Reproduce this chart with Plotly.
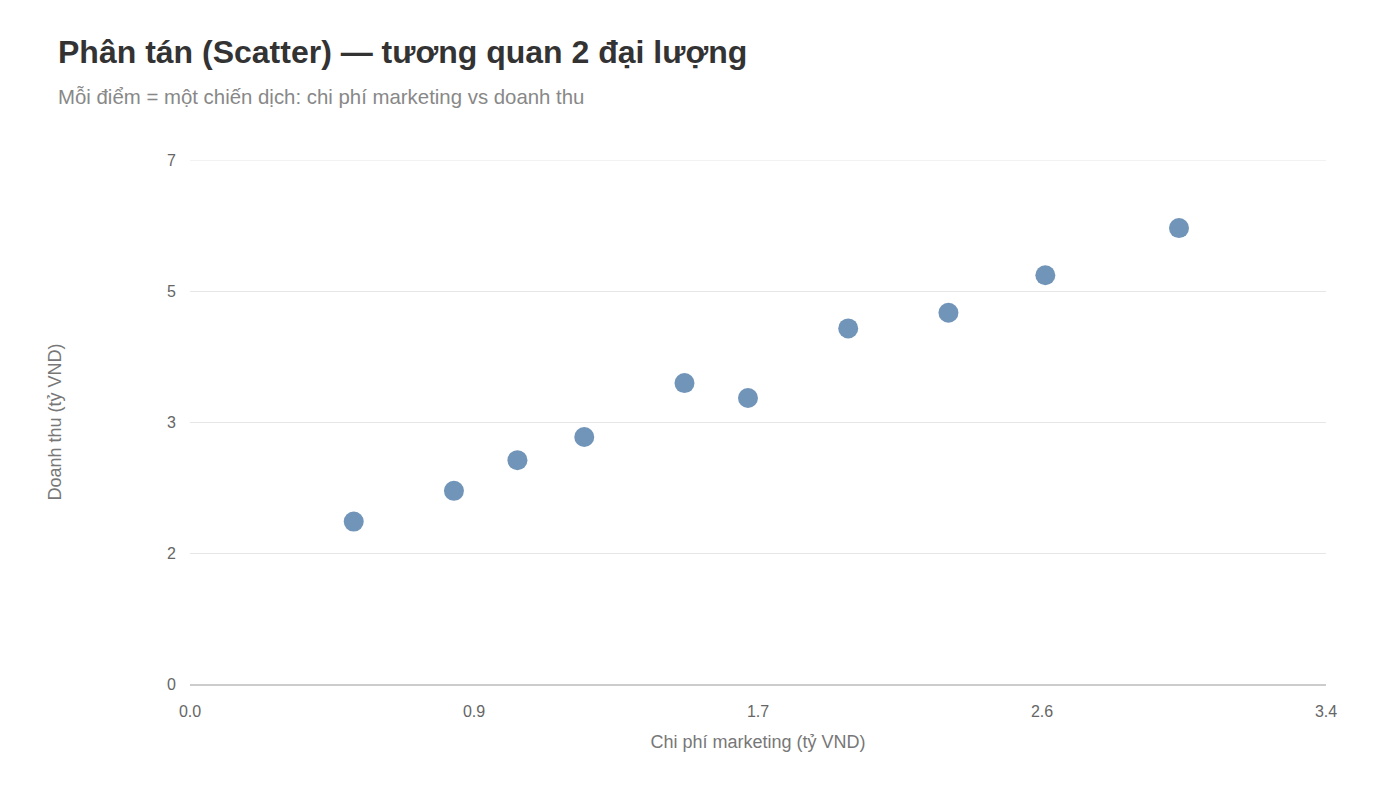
import plotly.graph_objects as go

chi_phi = [0.49, 0.79, 0.98, 1.18, 1.48, 1.67, 1.97, 2.27, 2.56, 2.96]
doanh_thu = [2.17, 2.58, 2.99, 3.30, 4.02, 3.82, 4.75, 4.96, 5.46, 6.09]

x_tickvals = [0, 0.85, 1.7, 2.55, 3.4]
x_ticktext = ["0.0", "0.9", "1.7", "2.6", "3.4"]
y_tickvals = [0, 1.75, 3.5, 5.25, 7]
y_ticktext = ["0", "2", "3", "5", "7"]

fig = go.Figure()
fig.add_trace(go.Scatter(
    x=chi_phi, y=doanh_thu, mode="markers",
    marker=dict(size=20, color="#4e79a7", opacity=0.8, line=dict(width=0)),
    showlegend=False,
))

font = "Liberation Sans, Arial, Helvetica, sans-serif"
fig.update_layout(
    width=1400, height=787,
    margin=dict(l=190, r=74, t=160, b=103),
    paper_bgcolor="white", plot_bgcolor="white",
    font=dict(family=font),
    title=dict(
        text="<b>Phân tán (Scatter) — tương quan 2 đại lượng</b>",
        x=58/1400, xanchor="left", xref="container",
        y=1-52/787, yanchor="middle", yref="container",
        font=dict(size=32, color="#333333", family=font),
    ),
    annotations=[dict(
        text="Mỗi điểm = một chiến dịch: chi phí marketing vs doanh thu",
        xref="paper", yref="paper",
        x=(56-190)/1136, y=(684-97)/524, xanchor="left", yanchor="middle",
        showarrow=False, font=dict(size=20.4, color="#888888", family=font),
    )],
    shapes=[dict(
        type="line", xref="paper", yref="y", x0=0, x1=1, y0=7, y1=7,
        line=dict(color="#e6e6e6", width=1), layer="below",
    )],
    xaxis=dict(
        range=[0, 3.4], tickvals=x_tickvals, ticktext=x_ticktext,
        showgrid=False, zeroline=False, showline=True, linecolor="#cccccc", linewidth=2,
        ticks="", ticklabelstandoff=12,
        tickfont=dict(size=16, color="#666666"),
        title=dict(text="Chi phí marketing (tỷ VND)", font=dict(size=18, color="#777777"), standoff=16),
    ),
    yaxis=dict(
        range=[0, 7], tickvals=y_tickvals, ticktext=y_ticktext,
        showgrid=True, gridcolor="#e6e6e6", gridwidth=1, zeroline=False,
        ticks="", ticklabelstandoff=13,
        tickfont=dict(size=16, color="#666666"),
        title=dict(text="Doanh thu (tỷ VND)", font=dict(size=18, color="#777777"), standoff=100),
    ),
)

fig.write_html("out.html")
